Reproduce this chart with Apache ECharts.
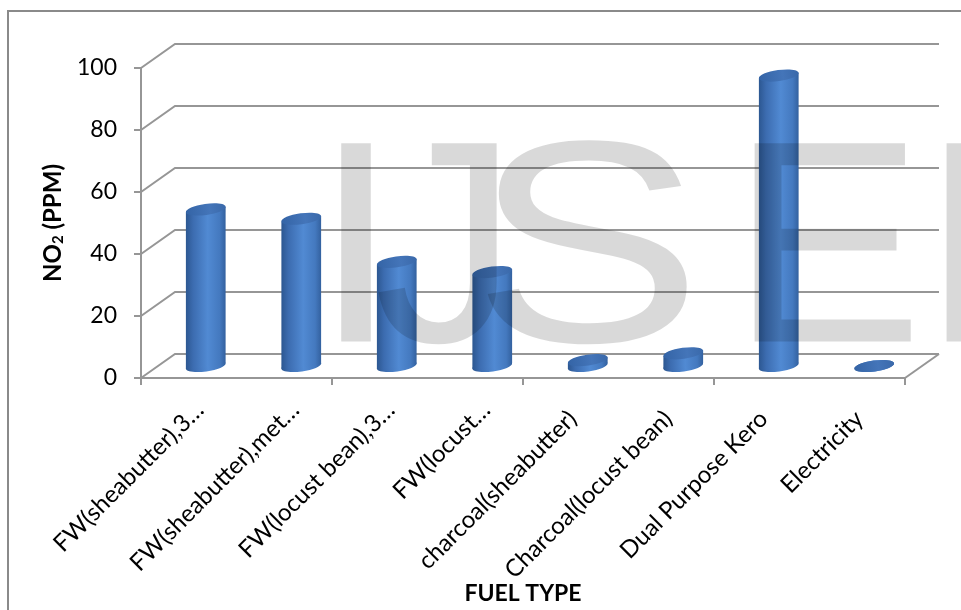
<!DOCTYPE html>
<html>
<head>
<meta charset="utf-8">
<script src="https://cdn.jsdelivr.net/npm/echarts@6/dist/echarts.min.js"></script>
<style>
  html, body { margin: 0; padding: 0; background: #ffffff; }
  #chart { width: 961px; height: 610px; }
</style>
</head>
<body>
<div id="chart"></div>
<script>
// Fuel types on the category axis
const categories = [
  'FW(sheabutter),3…',
  'FW(sheabutter),met…',
  'FW(locust bean),3…',
  'FW(locust…',
  'charcoal(sheabutter)',
  'Charcoal(locust bean)',
  'Dual Purpose Kero',
  'Electricity'
];
// NO2 concentration (ppm) per fuel type
const no2Values = [50.5, 47.5, 33.6, 30.3, 1.9, 4.1, 93.7, 0];
// Value-axis ticks
const yTicks = [0, 20, 40, 60, 80, 100];

const chart = echarts.init(document.getElementById('chart'), null, { renderer: 'canvas' });

// Pseudo-3D box: back wall offset and mid-depth offset (px)
const DEPTH_X = 34, DEPTH_Y = -24;
const MID_X = 17, MID_Y = -12;
const GRID_COLOR = '#969696';
const FONT = 'Lato, "Open Sans", sans-serif';

function renderWallLine(params, api) {
  const v = api.value(1);
  const p = api.coord([0, v]);
  const half = api.size([1, 0])[0] / 2;
  const left = p[0] - half;
  const right = api.coord([categories.length - 1, v])[0] + half;
  const y = p[1];
  const children = [{
    type: 'polyline',
    shape: { points: [[left, y], [left + DEPTH_X, y + DEPTH_Y], [right + DEPTH_X, y + DEPTH_Y]] },
    style: { stroke: GRID_COLOR, lineWidth: 2, fill: null }
  }];
  if (v === 0) {
    // right edge of the floor
    children.push({
      type: 'line',
      shape: { x1: right, y1: y, x2: right + DEPTH_X, y2: y + DEPTH_Y },
      style: { stroke: GRID_COLOR, lineWidth: 2 }
    });
  }
  return { type: 'group', children };
}

function bodyGradient() {
  return new echarts.graphic.LinearGradient(0, 0, 1, 0, [
    { offset: 0, color: '#2c5791' },
    { offset: 0.18, color: '#3c6cb0' },
    { offset: 0.55, color: '#518ad3' },
    { offset: 0.85, color: '#4479bf' },
    { offset: 1, color: '#33619f' }
  ]);
}

function renderCylinder(params, api) {
  const i = api.value(0);
  const v = api.value(1);
  const base = api.coord([i, 0]);
  const top = api.coord([i, v]);
  const rx = api.size([1, 0])[0] * 0.21;
  const ry = 5.5;
  const rot = 0.14;
  const cx = base[0] + MID_X;
  const yb = base[1] + MID_Y;
  const yt = top[1] + MID_Y;
  const ex = rx * Math.cos(rot), ey = rx * Math.sin(rot);
  return {
    type: 'group',
    children: [
      {
        type: 'ellipse', x: cx, y: yb, rotation: rot,
        shape: { cx: 0, cy: 0, rx: rx, ry: ry },
        style: { fill: bodyGradient() }
      },
      {
        type: 'polygon',
        shape: { points: [[cx - ex, yt + ey], [cx + ex, yt - ey], [cx + ex, yb - ey], [cx - ex, yb + ey]] },
        style: { fill: bodyGradient() }
      },
      {
        type: 'ellipse', x: cx, y: yt, rotation: rot,
        shape: { cx: 0, cy: 0, rx: rx, ry: ry },
        style: {
          fill: new echarts.graphic.LinearGradient(0, 0, 1, 0, [
            { offset: 0, color: '#3464a6' },
            { offset: 0.6, color: '#4475b9' },
            { offset: 1, color: '#3a69aa' }
          ])
        }
      }
    ]
  };
}

function renderCategoryLabel(params, api) {
  const i = api.value(0);
  const p = api.coord([i, 0]);
  const text = categories[i];
  // truncated names sit a little further along the slant
  const shift = text.charAt(text.length - 1) === '…' ? 9 : 0;
  return {
    type: 'text',
    x: p[0] + 2 + shift,
    y: p[1] + 37 - shift,
    rotation: Math.PI / 4,
    style: {
      text: text,
      fontFamily: FONT,
      fontSize: 24,
      fill: '#000000',
      align: 'right',
      verticalAlign: 'middle'
    }
  };
}

// Faint overlay lettering
const watermarkStyle = { fill: 'rgba(0,0,0,0.15)', fontFamily: '"Liberation Sans", Arial, sans-serif', fontSize: 288, verticalAlign: 'middle', align: 'left' };
const watermarkLetters = [
  { ch: 'I', x: 312, sx: 1.1 },
  { ch: 'J', x: 374, sx: 1 },
  { ch: 'S', x: 472, sx: 1.2 },
  { ch: 'E', x: 731, sx: 1 },
  { ch: 'I', x: 920, sx: 1 }
];

const option = {
  backgroundColor: '#ffffff',
  animation: false,
  grid: { left: 141, right: 56, top: 68, bottom: 224, containLabel: false },
  xAxis: {
    type: 'category',
    data: categories,
    boundaryGap: true,
    axisLine: { show: true, lineStyle: { color: GRID_COLOR, width: 2 } },
    axisTick: { show: true, length: 7, lineStyle: { color: GRID_COLOR, width: 2 } },
    axisLabel: { show: false },
    splitLine: { show: false },
    name: 'FUEL TYPE',
    nameLocation: 'middle',
    nameGap: 204,
    nameTextStyle: { fontFamily: FONT, fontWeight: 'bold', fontSize: 23, color: '#000' }
  },
  yAxis: {
    type: 'value',
    min: yTicks[0],
    max: yTicks[yTicks.length - 1],
    interval: yTicks[1] - yTicks[0],
    axisLine: { show: true, lineStyle: { color: GRID_COLOR, width: 2 } },
    axisTick: { show: true, length: 7, lineStyle: { color: GRID_COLOR, width: 2 } },
    axisLabel: { fontFamily: FONT, fontSize: 23, color: '#000', margin: 24 },
    splitLine: { show: false },
    name: '{b|NO}{s|2}{b| (PPM)}',
    nameLocation: 'middle',
    nameGap: 58,
    nameTextStyle: {
      rich: {
        b: { fontFamily: FONT, fontWeight: 'bold', fontSize: 24, color: '#000', height: 26 },
        s: { fontFamily: FONT, fontWeight: 'bold', fontSize: 15, color: '#000', height: 26, verticalAlign: 'bottom', padding: [10, 0, 0, 0] }
      }
    }
  },
  graphic: [
    {
      type: 'polyline', z: 0, silent: true,
      shape: { points: [[8, 610], [8, 11], [961, 11]] },
      style: { stroke: '#8a8a8a', lineWidth: 2, fill: null }
    }
  ].concat(watermarkLetters.map(function (w) {
    return {
      type: 'text', z: 100, silent: true, x: w.x, y: 262, scaleX: w.sx,
      style: Object.assign({ text: w.ch }, watermarkStyle)
    };
  })),
  series: [
    {
      type: 'custom',
      name: 'walls',
      z: 1,
      silent: true,
      renderItem: renderWallLine,
      data: yTicks.map(function (t) { return [0, t]; })
    },
    {
      type: 'custom',
      name: 'NO2',
      z: 3,
      renderItem: renderCylinder,
      data: no2Values.map(function (v, i) { return [i, v]; })
    },
    {
      type: 'custom',
      name: 'labels',
      z: 3,
      silent: true,
      clip: false,
      renderItem: renderCategoryLabel,
      data: categories.map(function (c, i) { return [i, 0]; })
    }
  ]
};

chart.setOption(option);
</script>
</body>
</html>
